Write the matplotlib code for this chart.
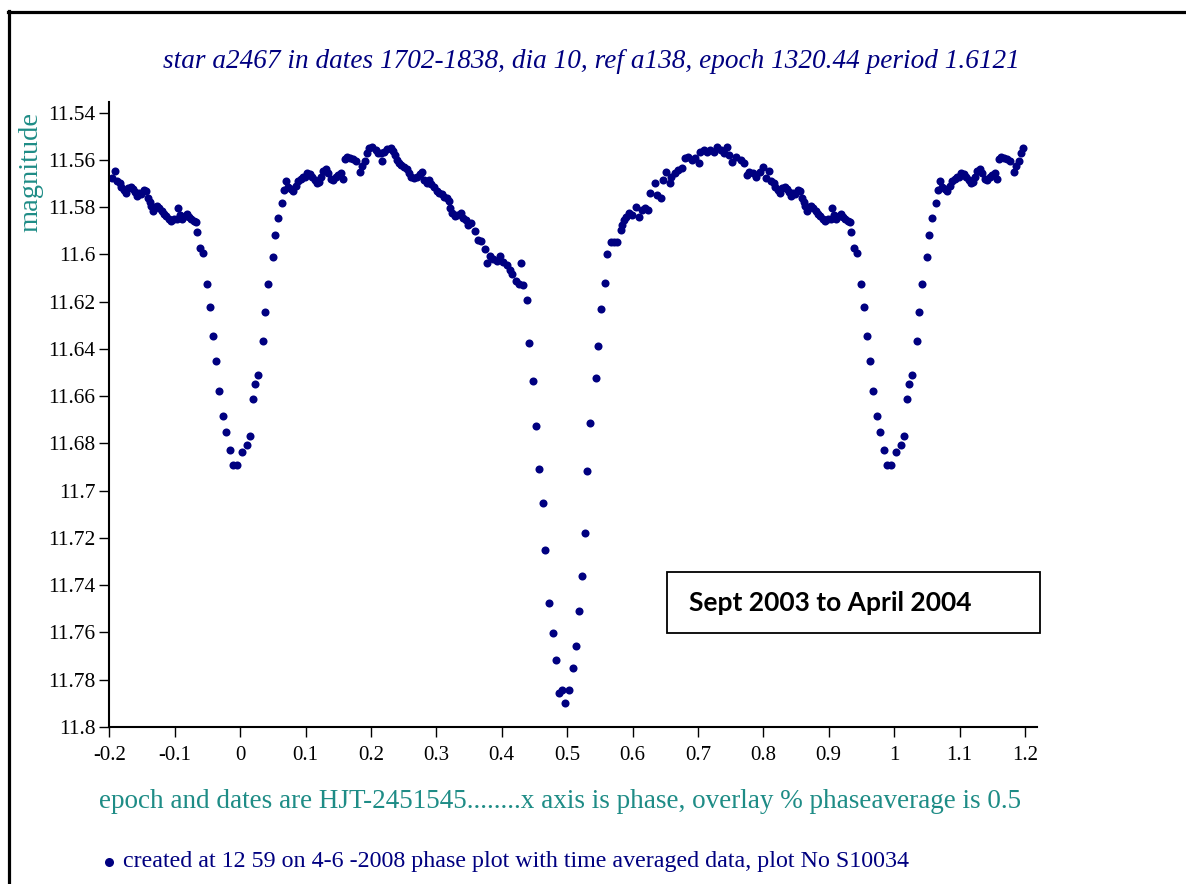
import numpy as np
import matplotlib.pyplot as plt
from matplotlib.lines import Line2D
from matplotlib.patches import Rectangle

plt.rcParams['font.family'] = ['Liberation Serif']

# phase plot data, phase -0.2 .. 0.8 (the rest is overlaid from phase < 0.2)
phase = [
    -0.1955, -0.1914, -0.1878, -0.1843, -0.1817, -0.1776, -0.1746, -0.1715, -0.1674, -0.1644,
    -0.1613, -0.1583, -0.1547, -0.1511, -0.1470, -0.1440, -0.1409, -0.1379, -0.1358, -0.1328,
    -0.1297, -0.1267, -0.1236, -0.1195, -0.1165, -0.1129, -0.1088, -0.1053, -0.1012, -0.0971,
    -0.0951, -0.0920, -0.0885, -0.0849, -0.0818, -0.0783, -0.0747, -0.0706, -0.0681,
    # secondary minimum
    -0.0665, -0.0614, -0.0573, -0.0512, -0.0456, -0.0410, -0.0364, -0.0324, -0.0263, -0.0212,
    -0.0155, -0.0110, -0.0054, 0.0033, 0.0099, 0.0145, 0.0191, 0.0227, 0.0278, 0.0344,
    0.0385, 0.0431, 0.0497, 0.0538, 0.0578, 0.0635, 0.0670, 0.0706,
    # maximum
    0.0731, 0.0772, 0.0813, 0.0849, 0.0889, 0.0925, 0.0956, 0.0991, 0.1027, 0.1068,
    0.1103, 0.1139, 0.1180, 0.1205, 0.1241, 0.1272, 0.1307, 0.1348, 0.1384, 0.1419,
    0.1460, 0.1501, 0.1537, 0.1577, 0.1603, 0.1639, 0.1680, 0.1731, 0.1771, 0.1833,
    0.1868, 0.1904, 0.1935, 0.1970, 0.2021, 0.2072, 0.2113, 0.2149,
    0.2174, 0.2199, 0.2240, 0.2301, 0.2342, 0.2362, 0.2393, 0.2429, 0.2464, 0.2505,
    0.2546, 0.2582, 0.2617, 0.2658, 0.2699, 0.2750, 0.2785, 0.2811, 0.2852, 0.2887,
    0.2923, 0.2964, 0.3004, 0.3040, 0.3081, 0.3117, 0.3157, 0.3193, 0.3208, 0.3244,
    0.3280, 0.3320, 0.3371, 0.3412, 0.3448, 0.3483, 0.3524, 0.3585, 0.3636, 0.3677,
    0.3739, 0.3769, 0.3820, 0.3871, 0.3932, 0.3973, 0.4024, 0.4075, 0.4126, 0.4162,
    0.4213, 0.4264, 0.4289, 0.4330,
    # primary minimum
    0.4381, 0.4421, 0.4478, 0.4528, 0.4574, 0.4625, 0.4666, 0.4727, 0.4788, 0.4829,
    0.4875, 0.4926, 0.4962, 0.5028, 0.5089, 0.5130, 0.5181, 0.5222, 0.5268, 0.5308,
    0.5349, 0.5436, 0.5476, 0.5512, 0.5573, 0.5614, 0.5665, 0.5716, 0.5767,
    # maximum
    0.5818, 0.5844, 0.5870, 0.5896, 0.5947, 0.5999, 0.6051, 0.6103, 0.6139, 0.6191,
    0.6232, 0.6274, 0.6336, 0.6377, 0.6429, 0.6465, 0.6517, 0.6569, 0.6595, 0.6647,
    0.6699, 0.6750, 0.6802, 0.6854, 0.6906, 0.6958, 0.7009, 0.7035, 0.7087, 0.7139,
    0.7191, 0.7242, 0.7294, 0.7346, 0.7398, 0.7450, 0.7476, 0.7527, 0.7579, 0.7657,
    0.7709, 0.7745, 0.7786, 0.7838, 0.7890, 0.7942, 0.7994,
]

magnitude = [
    11.5678, 11.5647, 11.5688, 11.5699, 11.5714, 11.5728, 11.5739, 11.5721, 11.5714, 11.5722,
    11.5735, 11.5753, 11.5742, 11.5745, 11.5728, 11.5732, 11.5763, 11.5777, 11.5795, 11.5815,
    11.5801, 11.5795, 11.5805, 11.5815, 11.5827, 11.5838, 11.5852, 11.5858, 11.5848, 11.5852,
    11.5805, 11.5834, 11.5852, 11.5838, 11.5829, 11.5843, 11.5852, 11.5858, 11.5862,
    11.5907, 11.5973, 11.5993, 11.6126, 11.6222, 11.6346, 11.6452, 11.6578, 11.6685, 11.6750,
    11.6829, 11.6893, 11.6893, 11.6838, 11.6808, 11.6770, 11.6612, 11.6550, 11.6512, 11.6365,
    11.6243, 11.6126, 11.6013, 11.5918, 11.5844, 11.5781, 11.5728, 11.5690,
    11.5714, 11.5725, 11.5731, 11.5711, 11.5688, 11.5682, 11.5674, 11.5674, 11.5654, 11.5660,
    11.5674, 11.5685, 11.5699, 11.5692, 11.5674, 11.5647, 11.5640, 11.5657, 11.5682, 11.5685,
    11.5674, 11.5664, 11.5654, 11.5682, 11.5596, 11.5589, 11.5594, 11.5598, 11.5603, 11.5650,
    11.5626, 11.5603, 11.5572, 11.5551, 11.5547, 11.5558, 11.5569, 11.5572,
    11.5603, 11.5565, 11.5555, 11.5551, 11.5561, 11.5579, 11.5600, 11.5612, 11.5622, 11.5632,
    11.5640, 11.5654, 11.5671, 11.5678, 11.5671, 11.5660, 11.5650, 11.5685, 11.5697, 11.5685,
    11.5702, 11.5716, 11.5730, 11.5739, 11.5745, 11.5756, 11.5763, 11.5773, 11.5805, 11.5824,
    11.5838, 11.5834, 11.5824, 11.5844, 11.5855, 11.5876, 11.5866, 11.5900, 11.5937, 11.5942,
    11.5975, 11.6036, 11.6007, 11.6021, 11.6027, 11.6007, 11.6031, 11.6045, 11.6064, 11.6083,
    11.6112, 11.6126, 11.6038, 11.6130,
    11.6191, 11.6373, 11.6536, 11.6728, 11.6910, 11.7054, 11.7249, 11.7476, 11.7602, 11.7716,
    11.7858, 11.7843, 11.7899, 11.7843, 11.7750, 11.7657, 11.7507, 11.7359, 11.7177, 11.6917,
    11.6712, 11.6523, 11.6389, 11.6232, 11.6123, 11.5999, 11.5947, 11.5947, 11.5947,
    11.5897, 11.5876, 11.5855, 11.5841, 11.5826, 11.5833, 11.5798, 11.5843, 11.5812, 11.5805,
    11.5812, 11.5742, 11.5699, 11.5749, 11.5763, 11.5685, 11.5650, 11.5699, 11.5671, 11.5657,
    11.5643, 11.5636, 11.5593, 11.5586, 11.5600, 11.5593, 11.5615, 11.5565, 11.5558, 11.5565,
    11.5558, 11.5565, 11.5544, 11.5558, 11.5572, 11.5544, 11.5579, 11.5607, 11.5586, 11.5600,
    11.5615, 11.5664, 11.5650, 11.5657, 11.5671, 11.5650, 11.5632,
]

xtick_vals = [-0.2, -0.1, 0, 0.1, 0.2, 0.3, 0.4, 0.5, 0.6, 0.7, 0.8, 0.9, 1, 1.1, 1.2]
xtick_labels = ['-0.2', '-0.1', '0', '0.1', '0.2', '0.3', '0.4', '0.5', '0.6', '0.7',
                '0.8', '0.9', '1', '1.1', '1.2']
ytick_vals = [11.54, 11.56, 11.58, 11.6, 11.62, 11.64, 11.66, 11.68, 11.7, 11.72,
              11.74, 11.76, 11.78, 11.8]
ytick_labels = ['11.54', '11.56', '11.58', '11.6', '11.62', '11.64', '11.66', '11.68',
                '11.7', '11.72', '11.74', '11.76', '11.78', '11.8']

title = 'star a2467 in dates 1702-1838, dia 10, ref a138, epoch 1320.44 period 1.6121'
note1 = 'epoch and dates are HJT-2451545........x axis is phase, overlay % phaseaverage is 0.5'
note2 = 'created at 12 59 on 4-6 -2008 phase plot with time averaged data, plot No S10034'
box_text = 'Sept 2003 to April 2004'

navy = '#000080'
teal = '#1E8C86'
serif = 'Liberation Serif'

# overlay: phase < 0.2 repeated one period later
ph = np.array(phase)
mg = np.array(magnitude)
over = ph < 0.2
ph_all = np.concatenate([ph, ph[over] + 1])
mg_all = np.concatenate([mg, mg[over]])

fig = plt.figure(figsize=(11.86, 8.84), dpi=100)
ax = fig.add_axes([0.0922, 0.1776, 0.7822, 0.7070])

ax.plot(ph_all, mg_all, 'o', color=navy, ms=5.8, mew=0)

ax.set_xlim(-0.2, 1.2185)
ax.set_ylim(11.8, 11.5355)
ax.set_xticks(xtick_vals)
ax.set_xticklabels(xtick_labels, fontfamily=serif, fontsize=15)
ax.set_yticks(ytick_vals)
ax.set_yticklabels(ytick_labels, fontfamily=serif, fontsize=15.5)

for s in ['top', 'right']:
    ax.spines[s].set_visible(False)
for s in ['left', 'bottom']:
    ax.spines[s].set_linewidth(1.5)
ax.tick_params(direction='out', length=7, width=1, colors='black')
ax.tick_params(axis='x', pad=7)
ax.tick_params(axis='y', pad=3)

# texts
fig.text(0.4983, 0.9299, title, ha='center', va='center', style='italic',
         color=navy, fontsize=19.6, family=serif)
fig.text(0.0261, 0.8054, 'magnitude', ha='center', va='center', rotation=90,
         color=teal, fontsize=20.5, family=serif)
fig.text(0.0835, 0.0928, note1, ha='left', va='center', color=teal, fontsize=19.5,
         family=serif)
# legend dot in front of the footer line
fig.add_artist(Line2D([0.0919], [0.0249], transform=fig.transFigure, marker='o',
                      color=navy, ms=6.5, mew=0, lw=0))
fig.text(0.1037, 0.0249, note2, ha='left', va='center', color=navy, fontsize=17.3,
         family=serif)

# label box
fig.add_artist(Rectangle((0.5624, 0.2839), 0.3145, 0.0690, transform=fig.transFigure,
                         fill=False, edgecolor='black', lw=1.3))
fig.text(0.5809, 0.3179, box_text, ha='left', va='center', fontsize=19,
         fontweight='bold', family='Lato', color='black')

# page frame
fig.add_artist(Line2D([0.0068, 1.0], [0.9864, 0.9864], transform=fig.transFigure,
                      color='black', lw=2.3))
fig.add_artist(Line2D([0.0080, 0.0080], [0.0, 0.9875], transform=fig.transFigure,
                      color='black', lw=2.3))

fig.savefig('out.png', dpi=100)
